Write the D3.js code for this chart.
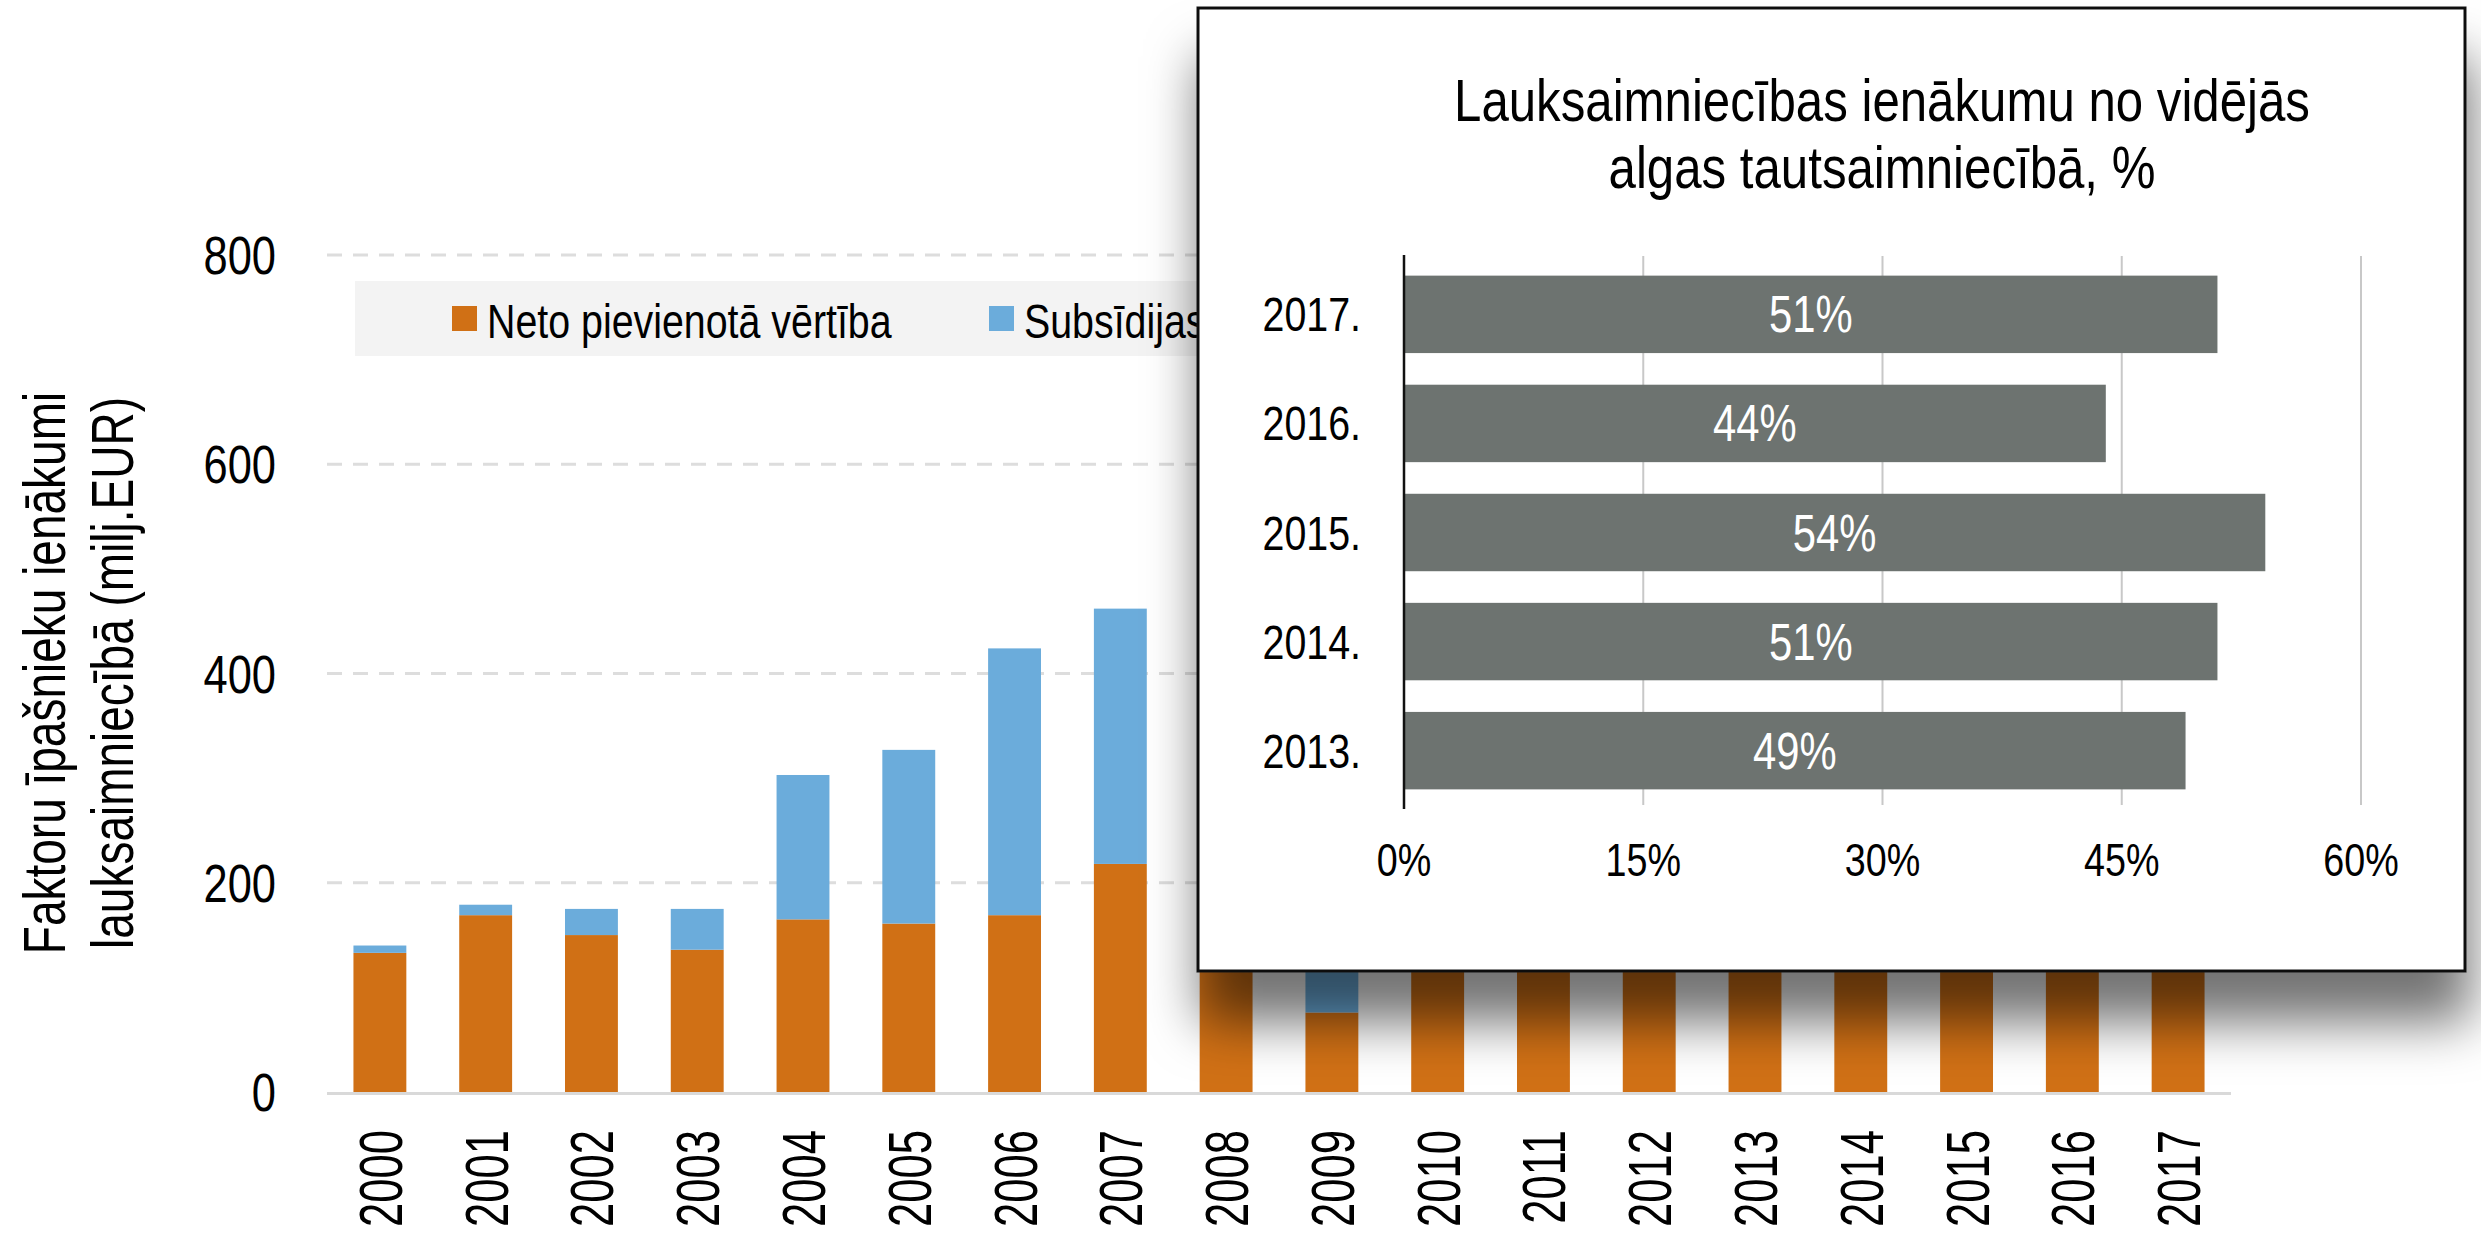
<!DOCTYPE html>
<html>
<head>
<meta charset="utf-8">
<script src="https://cdn.jsdelivr.net/npm/d3@7"></script>
<style>
  body { margin: 0; background: #fff; }
  text { font-family: "Liberation Sans", Arial, sans-serif; }
</style>
</head>
<body>
<script>
// main chart data (milj. EUR)
var years = ["2000","2001","2002","2003","2004","2005","2006","2007","2008",
             "2009","2010","2011","2012","2013","2014","2015","2016","2017"];
var netValue = [133, 169, 150, 136, 165, 161, 169, 218, 195, 76, 210, 260, 290, 280, 270, 250, 220, 310];
var subsidies = [7, 10, 25, 39, 138, 166, 255, 244, 230, 250, 260, 280, 300, 320, 340, 350, 360, 370];
var yTicks = [0, 200, 400, 600, 800];
var seriesNames = ["Neto pievienotā vērtība", "Subsīdijas"];

// inset chart data
var insetYears = ["2017.", "2016.", "2015.", "2014.", "2013."];
var insetShare = [0.51, 0.44, 0.54, 0.51, 0.49];
var insetTicks = [0, 0.15, 0.30, 0.45, 0.60];
var insetTitle = ["Lauksaimniecības ienākumu no vidējās", "algas tautsaimniecībā, %"];

var orange = "#D07015", blue = "#6BACDB";
var NARROW = 0.82;  // no narrow font installed, squeeze the regular one

var svg = d3.select("body").append("svg")
    .attr("width", 2481)
    .attr("height", 1234);

// helper: condensed text placed at x,y
function narrow(g, px, py, size, anchor, txt) {
    return g.append("text")
        .attr("transform", "translate(" + px + "," + py + ") scale(" + NARROW + ",1)")
        .attr("text-anchor", anchor)
        .style("font-size", size + "px")
        .text(txt);
}

// drop shadow for the inset box
var defs = svg.append("defs");
var f = defs.append("filter").attr("id", "shadow")
    .attr("x", "-10%").attr("y", "-10%").attr("width", "120%").attr("height", "130%");
f.append("feDropShadow")
    .attr("dx", 4).attr("dy", 50)
    .attr("stdDeviation", 26)
    .attr("flood-color", "#000")
    .attr("flood-opacity", 0.55);

// scales
var x = d3.scaleBand().domain(years).range([327, 2231]).paddingInner(0.5).paddingOuter(0.25);
var y = d3.scaleLinear().domain([0, 800]).range([1092, 255]);

// gridlines
svg.append("g")
  .selectAll("line")
  .data(yTicks.filter(function(d){ return d > 0; }))
  .enter().append("line")
    .attr("x1", 327).attr("x2", 2231)
    .attr("y1", function(d){ return y(d); })
    .attr("y2", function(d){ return y(d); })
    .style("stroke", "#DDDDDD")
    .style("stroke-width", 3)
    .style("stroke-dasharray", "15,11");

// legend
svg.append("rect")
    .attr("x", 355).attr("y", 281)
    .attr("width", 1000).attr("height", 75)
    .style("fill", "#F3F3F3");

var legendX = [452, 989];
seriesNames.forEach(function(name, i){
    svg.append("rect")
        .attr("x", legendX[i]).attr("y", 306)
        .attr("width", 25).attr("height", 25)
        .style("fill", i == 0 ? orange : blue);
    narrow(svg, legendX[i] + 35, 338, 48, "start", name);
});

// stacked bars
var stacked = years.map(function(d, i){
    return {year: d, net: netValue[i], sub: subsidies[i]};
});

svg.append("g").selectAll("rect")
  .data(stacked)
  .enter().append("rect")
    .attr("x", function(d){ return x(d.year); })
    .attr("width", x.bandwidth())
    .attr("y", function(d){ return y(d.net); })
    .attr("height", function(d){ return y(0) - y(d.net); })
    .style("fill", orange);

svg.append("g").selectAll("rect")
  .data(stacked)
  .enter().append("rect")
    .attr("x", function(d){ return x(d.year); })
    .attr("width", x.bandwidth())
    .attr("y", function(d){ return y(d.net + d.sub); })
    .attr("height", function(d){ return y(d.net) - y(d.net + d.sub); })
    .style("fill", blue);

// baseline
svg.append("line")
    .attr("x1", 327).attr("x2", 2231)
    .attr("y1", y(0) + 1.5).attr("y2", y(0) + 1.5)
    .style("stroke", "#D9D9D9")
    .style("stroke-width", 3);

// y axis labels
var yLab = svg.append("g");
yTicks.forEach(function(d){
    narrow(yLab, 276, y(d) + 19, 53, "end", d);
});

// x axis labels (rotated)
svg.append("g").selectAll("text")
  .data(years)
  .enter().append("text")
    .attr("transform", function(d){
        return "translate(" + (x(d) + x.bandwidth() / 2) + ",1130) rotate(-90) scale(1,1.4)";
    })
    .attr("dy", "0.36em")
    .attr("text-anchor", "end")
    .style("font-size", "43.6px")
    .text(function(d){ return d; });

// y axis title
var yTitle = ["Faktoru īpašnieku ienākumi", "lauksaimniecībā (milj.EUR)"];
yTitle.forEach(function(t, i){
    svg.append("text")
        .attr("transform", "translate(" + (43 + i * 68) + ",673) rotate(-90) scale(1,1.3)")
        .attr("dy", "0.36em")
        .attr("text-anchor", "middle")
        .style("font-size", "46px")
        .text(t);
});

// ---- inset box ----
svg.append("rect")
    .attr("x", 1198).attr("y", 8)
    .attr("width", 1267).attr("height", 963)
    .style("fill", "#fff")
    .style("stroke", "#111")
    .style("stroke-width", 3)
    .attr("filter", "url(#shadow)");

var ix = d3.scaleLinear().domain([0, 0.6]).range([1404, 2361]);
var iy = d3.scaleBand().domain(insetYears).range([256, 809]).paddingInner(0.29).paddingOuter(0.18);

// title
insetTitle.forEach(function(t, i){
    narrow(svg, 1882, 121 + i * 67, 60, "middle", t);
});

// vertical gridlines
svg.append("g").selectAll("line")
  .data(insetTicks.slice(1))
  .enter().append("line")
    .attr("x1", function(d){ return ix(d); })
    .attr("x2", function(d){ return ix(d); })
    .attr("y1", 256).attr("y2", 805)
    .style("stroke", "#C8C8C8")
    .style("stroke-width", 2);

// bars
svg.append("g").selectAll("rect")
  .data(insetYears)
  .enter().append("rect")
    .attr("x", ix(0))
    .attr("y", function(d){ return iy(d); })
    .attr("width", function(d, i){ return ix(insetShare[i]) - ix(0); })
    .attr("height", iy.bandwidth())
    .style("fill", "#6D7370");

// value labels
var valLab = svg.append("g");
insetYears.forEach(function(d, i){
    narrow(valLab, (ix(0) + ix(insetShare[i])) / 2, iy(d) + iy.bandwidth() / 2 + 18, 51, "middle",
           d3.format(".0%")(insetShare[i]))
        .style("fill", "#fff");
});

// axis line
svg.append("line")
    .attr("x1", ix(0)).attr("x2", ix(0))
    .attr("y1", 255).attr("y2", 809)
    .style("stroke", "#111")
    .style("stroke-width", 2.5);

// category labels
var catLab = svg.append("g");
insetYears.forEach(function(d){
    narrow(catLab, 1361, iy(d) + iy.bandwidth() / 2 + 17, 48, "end", d);
});

// x tick labels
var tickLab = svg.append("g");
insetTicks.forEach(function(d){
    narrow(tickLab, ix(d), 876, 46, "middle", d3.format(".0%")(d));
});
</script>
</body>
</html>
